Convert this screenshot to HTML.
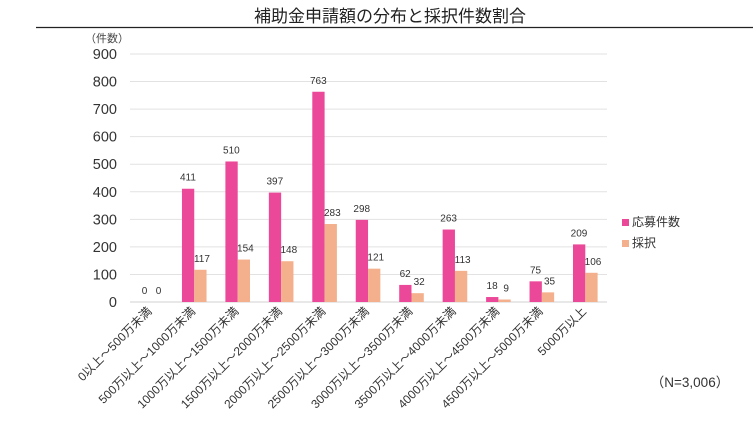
<!DOCTYPE html>
<html><head><meta charset="utf-8"><style>
body{margin:0;background:#fff}
svg{display:block;font-family:"Liberation Sans","Noto Sans CJK JP",sans-serif}
</style></head><body>
<svg width="753" height="423" viewBox="0 0 753 423" xmlns="http://www.w3.org/2000/svg">
<text x="390" y="22" font-size="17" text-anchor="middle" fill="#222">補助金申請額の分布と採択件数割合</text>
<line x1="36" y1="27.5" x2="753" y2="27.5" stroke="#222" stroke-width="1.3"/>
<text x="107" y="42" font-size="11" text-anchor="middle" fill="#444">（件数）</text>
<g id="g"></g>
<rect x="622" y="219" width="7" height="7" fill="#EC4899"/>
<text x="632" y="226" font-size="12" fill="#333">応募件数</text>
<rect x="622" y="240" width="7" height="7" fill="#F4B08C"/>
<text x="632" y="247" font-size="12" fill="#333">採択</text>
<text x="690" y="387" font-size="13.5" text-anchor="middle" fill="#333">（N=3,006）</text>
</svg>
<script>
var g=document.getElementById('g'),s='';
var y0=302,k=248/900;
for(var v=0;v<=900;v+=100){var y=y0-v*k;
s+='<line x1="130" x2="607" y1="'+y+'" y2="'+y+'" stroke="'+(v?'#e2e2e2':'#d0d0d0')+'" stroke-width="1"/>';
s+='<text x="117" y="'+(y+5)+'" font-size="14.5" text-anchor="end" fill="#333">'+v+'</text>';}
var a=[0,411,510,397,763,298,62,263,18,75,209],b=[0,117,154,148,283,121,32,113,9,35,106];
var L=['0以上～500万未満','500万以上～1000万未満','1000万以上～1500万未満','1500万以上～2000万未満','2000万以上～2500万未満','2500万以上～3000万未満','3000万以上～3500万未満','3500万以上～4000万未満','4000万以上～4500万未満','4500万以上～5000万未満','5000万以上'];
for(var i=0;i<11;i++){var x=130+43.45*i+8.5;
var ha=a[i]*k,hb=b[i]*k;
s+='<rect x="'+x+'" y="'+(y0-ha)+'" width="12.3" height="'+ha+'" fill="#EC4899"/>';
s+='<rect x="'+(x+12.3)+'" y="'+(y0-hb)+'" width="12.3" height="'+hb+'" fill="#F4B08C"/>';
s+='<text x="'+(x+6)+'" y="'+(y0-ha-8)+'" font-size="10" text-anchor="middle" fill="#333">'+a[i]+'</text>';
s+='<text x="'+(x+20)+'" y="'+(y0-hb-8)+'" font-size="10" text-anchor="middle" fill="#333">'+b[i]+'</text>';
var cx=x+14,cy=312;
s+='<text transform="translate('+cx+','+cy+') rotate(-45)" font-size="12" text-anchor="end" fill="#333">'+L[i]+'</text>';}
g.innerHTML=s;
</script>
</body></html>
